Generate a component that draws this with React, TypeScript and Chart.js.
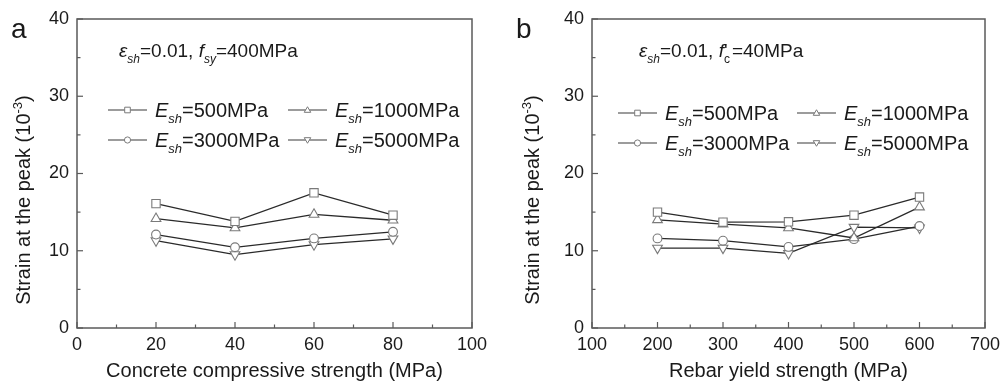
import React, { useEffect, useRef } from 'react';
import { Chart, registerables } from 'chart.js';

Chart.register(...registerables);

const FONT = "'Liberation Sans', Arial, Helvetica, sans-serif";

// ---- Data: panel a (concrete compressive strength, MPa) ----
const concreteStrength = [20, 40, 60, 80];
const aEsh500 = [16.1, 13.8, 17.5, 14.6];
const aEsh1000 = [14.15, 12.95, 14.7, 13.95];
const aEsh3000 = [12.1, 10.45, 11.6, 12.45];
const aEsh5000 = [11.3, 9.5, 10.8, 11.55];

// ---- Data: panel b (rebar yield strength, MPa) ----
const rebarYield = [200, 300, 400, 500, 600];
const bEsh500 = [15.0, 13.7, 13.75, 14.6, 16.95];
const bEsh1000 = [14.0, 13.45, 12.95, 11.65, 15.65];
const bEsh3000 = [11.6, 11.3, 10.5, 11.5, 13.2];
const bEsh5000 = [10.35, 10.35, 9.65, 13.05, 12.95];

const eshLabels = ['500', '1000', '3000', '5000'];
const yTickStep = 10;

type Part = { t: string; it?: boolean; sub?: boolean; sup?: boolean; adv?: number };

function drawRich(ctx: CanvasRenderingContext2D, parts: Part[], x: number, y: number, size: number, measureOnly = false) {
  let cx = x;
  for (const p of parts) {
    const s = p.sub || p.sup ? Math.round(size * 0.65) : size;
    ctx.font = `${p.it ? 'italic ' : ''}${s}px ${FONT}`;
    const dy = p.sub ? size * 0.32 : p.sup ? -size * 0.42 : 0;
    if (!measureOnly) ctx.fillText(p.t, cx, y + dy);
    cx += p.adv !== undefined ? p.adv : ctx.measureText(p.t).width;
  }
  return cx - x;
}

const markerKinds = ['rect', 'tri', 'circle', 'down'];

function drawMarker(ctx: CanvasRenderingContext2D, kind: string, x: number, y: number, r: number) {
  ctx.beginPath();
  if (kind === 'rect') {
    ctx.rect(x - r, y - r, 2 * r, 2 * r);
  } else if (kind === 'circle') {
    ctx.arc(x, y, r, 0, Math.PI * 2);
  } else if (kind === 'tri') {
    ctx.moveTo(x, y - r * 1.05);
    ctx.lineTo(x + r * 1.05, y + r * 0.75);
    ctx.lineTo(x - r * 1.05, y + r * 0.75);
    ctx.closePath();
  } else {
    ctx.moveTo(x, y + r * 1.05);
    ctx.lineTo(x + r * 1.05, y - r * 0.75);
    ctx.lineTo(x - r * 1.05, y - r * 0.75);
    ctx.closePath();
  }
  ctx.fillStyle = '#ffffff';
  ctx.fill();
  ctx.strokeStyle = '#7a7a7a';
  ctx.lineWidth = 1;
  ctx.stroke();
}

type PanelCfg = {
  letter: string;
  xs: number[];
  series: number[][];
  xMin: number;
  xMax: number;
  xStep: number;
  xMinor: number;
  xTitle: string;
  yAxisWidth: number;
  rightPad: number;
  note: Part[];
  noteX: number;
  legendCols: number[];
  legendRows: number[];
  yTitleX: number;
};

const panelA: PanelCfg = {
  letter: 'a',
  xs: concreteStrength,
  series: [aEsh500, aEsh1000, aEsh3000, aEsh5000],
  xMin: 0,
  xMax: 100,
  xStep: 20,
  xMinor: 10,
  xTitle: 'Concrete compressive strength (MPa)',
  yAxisWidth: 77,
  rightPad: 28,
  note: [
    { t: 'ε', it: true },
    { t: 'sh', it: true, sub: true },
    { t: '=0.01, ' },
    { t: 'f', it: true },
    { t: 'sy', it: true, sub: true },
    { t: '=400MPa' },
  ],
  noteX: 119,
  legendCols: [108, 288],
  legendRows: [110, 140],
  yTitleX: 30,
};

const panelB: PanelCfg = {
  letter: 'b',
  xs: rebarYield,
  series: [bEsh500, bEsh1000, bEsh3000, bEsh5000],
  xMin: 100,
  xMax: 700,
  xStep: 100,
  xMinor: 50,
  xTitle: 'Rebar yield strength (MPa)',
  yAxisWidth: 92,
  rightPad: 15,
  note: [
    { t: 'ε', it: true },
    { t: 'sh', it: true, sub: true },
    { t: '=0.01, ' },
    { t: 'f', it: true },
    { t: 'c', sub: true, adv: 0 },
    { t: "'", adv: 8 },
    { t: '=40MPa' },
  ],
  noteX: 139,
  legendCols: [118, 297],
  legendRows: [113, 143],
  yTitleX: 39,
};

function Panel({ cfg, left }: { cfg: PanelCfg; left: number }) {
  const ref = useRef<HTMLCanvasElement | null>(null);
  useEffect(() => {
    const canvas = ref.current;
    if (!canvas) return;
    const decor = {
      id: 'decor',
      afterDraw(chart: any) {
        const ctx: CanvasRenderingContext2D = chart.ctx;
        const { left: L, right: R, top: T, bottom: B } = chart.chartArea;
        const xs = chart.scales.x;
        const ys = chart.scales.y;
        ctx.save();
        // frame
        ctx.strokeStyle = '#5a5a5a';
        ctx.lineWidth = 1.5;
        ctx.strokeRect(L, T, R - L, B - T);
        // inward ticks
        ctx.lineWidth = 1.2;
        for (let v = 0; v <= 40; v += yTickStep / 2) {
          const py = ys.getPixelForValue(v);
          const len = v % yTickStep === 0 ? 6 : 3.5;
          ctx.beginPath();
          ctx.moveTo(L, py);
          ctx.lineTo(L + len, py);
          ctx.stroke();
        }
        for (let v = cfg.xMin; v <= cfg.xMax; v += cfg.xMinor) {
          const px = xs.getPixelForValue(v);
          const len = (v - cfg.xMin) % cfg.xStep === 0 ? 6 : 3.5;
          ctx.beginPath();
          ctx.moveTo(px, B);
          ctx.lineTo(px, B - len);
          ctx.stroke();
        }
        ctx.fillStyle = '#1a1a1a';
        ctx.textBaseline = 'alphabetic';
        ctx.textAlign = 'left';
        // panel letter
        ctx.font = `28px ${FONT}`;
        ctx.fillText(cfg.letter, cfg.letter === 'a' ? 11 : 16, 38);
        // x title
        ctx.font = `20px ${FONT}`;
        ctx.textAlign = 'center';
        ctx.fillText(cfg.xTitle, (L + R) / 2, 377);
        ctx.textAlign = 'left';
        // y title (rotated)
        const yParts: Part[] = [{ t: 'Strain at the peak (10' }, { t: '-3', sup: true }, { t: ')' }];
        const w = drawRich(ctx, yParts, 0, 0, 20, true);
        ctx.save();
        ctx.translate(cfg.yTitleX, 200);
        ctx.rotate(-Math.PI / 2);
        drawRich(ctx, yParts, -w / 2, 0, 20);
        ctx.restore();
        // annotation
        drawRich(ctx, cfg.note, cfg.noteX, 57, 19);
        // legend
        for (let i = 0; i < 4; i++) {
          const col = i % 2;
          const row = Math.floor(i / 2);
          const lx = cfg.legendCols[col];
          const ly = cfg.legendRows[row];
          ctx.strokeStyle = '#3a3a3a';
          ctx.lineWidth = 1.2;
          ctx.beginPath();
          ctx.moveTo(lx, ly);
          ctx.lineTo(lx + 39, ly);
          ctx.stroke();
          drawMarker(ctx, markerKinds[i], lx + 19.5, ly, markerKinds[i] === 'rect' ? 2.8 : 3.1);
          ctx.fillStyle = '#1a1a1a';
          drawRich(
            ctx,
            [{ t: 'E', it: true }, { t: 'sh', it: true, sub: true }, { t: '=' + eshLabels[i] + 'MPa' }],
            lx + 47,
            ly + 7,
            20
          );
        }
        ctx.restore();
      },
    };

    const styles: any[] = [
      { pointStyle: 'rect', pointRadius: 5.9, rotation: 0 },
      { pointStyle: 'triangle', pointRadius: 5.6, rotation: 0 },
      { pointStyle: 'circle', pointRadius: 4.4, rotation: 0 },
      { pointStyle: 'triangle', pointRadius: 5.6, rotation: 180 },
    ];

    const chart = new Chart(canvas, {
      type: 'line',
      data: {
        datasets: cfg.series.map((vals, i) => ({
          label: 'Esh=' + eshLabels[i] + 'MPa',
          data: cfg.xs.map((x, j) => ({ x, y: vals[j] })),
          borderColor: '#2a2a2a',
          borderWidth: 1.3,
          pointBackgroundColor: '#ffffff',
          pointBorderColor: '#7a7a7a',
          pointBorderWidth: 1.1,
          pointStyle: styles[i].pointStyle,
          pointRadius: styles[i].pointRadius,
          pointRotation: styles[i].rotation,
          tension: 0,
          fill: false,
        })),
      },
      options: {
        animation: false,
        responsive: false,
        maintainAspectRatio: false,
        events: [],
        layout: { padding: { left: 0, top: 19, right: cfg.rightPad, bottom: 0 } },
        plugins: { legend: { display: false }, tooltip: { enabled: false }, title: { display: false } },
        scales: {
          x: {
            type: 'linear',
            min: cfg.xMin,
            max: cfg.xMax,
            grid: { display: false, drawTicks: false },
            border: { display: false },
            ticks: {
              stepSize: cfg.xStep,
              padding: 6,
              maxRotation: 0,
              autoSkip: false,
              color: '#1a1a1a',
              font: { family: FONT, size: 18 },
            },
            afterFit: (s: any) => {
              s.height = 53;
              s.paddingLeft = 0;
              s.paddingRight = 0;
            },
          },
          y: {
            min: 0,
            max: 40,
            grid: { display: false, drawTicks: false },
            border: { display: false },
            ticks: {
              stepSize: yTickStep,
              padding: 8,
              color: '#1a1a1a',
              font: { family: FONT, size: 18 },
            },
            afterFit: (s: any) => {
              s.width = cfg.yAxisWidth;
            },
          },
        },
      },
      plugins: [decor],
    } as any);
    return () => chart.destroy();
  }, [cfg]);
  return (
    <canvas
      ref={ref}
      width={500}
      height={381}
      style={{ position: 'absolute', left, top: 0, width: 500, height: 381 }}
    />
  );
}

export default function App() {
  return (
    <div style={{ position: 'absolute', left: 0, top: 0, width: 1000, height: 381, background: '#ffffff', overflow: 'hidden' }}>
      <Panel cfg={panelA} left={0} />
      <Panel cfg={panelB} left={500} />
    </div>
  );
}
